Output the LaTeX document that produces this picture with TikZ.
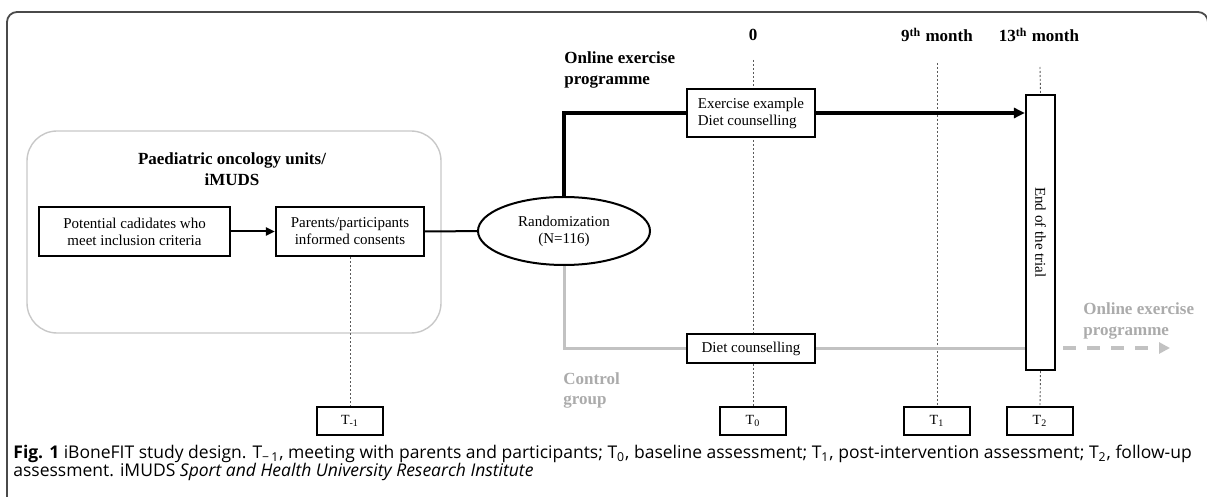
\documentclass[tikz,border=0pt]{standalone}
\usepackage{fontspec}
\setmainfont{Liberation Serif}
\newfontfamily\capfont{Open Sans}
\usetikzlibrary{arrows.meta,shapes.geometric}
\definecolor{framegray}{HTML}{4A4A4A}
\definecolor{panelgray}{HTML}{C8C8C8}
\definecolor{ctrlline}{HTML}{C2C2C2}
\definecolor{ctrltext}{HTML}{ABABAB}
\definecolor{guide}{HTML}{5A5A5A}
\tikzset{
  stagebox/.style={draw=black, fill=white, line width=1.1pt, rectangle, inner sep=0pt,
    font=\fontsize{7.5}{8.5}\selectfont, align=center},
  timebox/.style={draw=black, fill=white, line width=1.1pt, minimum width=33pt,
    minimum height=14pt, inner sep=0pt, font=\fontsize{7}{8}\selectfont},
  heading/.style={font=\fontsize{8.5}{10.5}\selectfont\bfseries, align=center, inner sep=0pt},
  guideline/.style={draw=guide, line width=0.45pt, dash pattern=on 1pt off 1pt},
  trunk/.style={draw=black, line width=1.6pt},
  ctrl/.style={draw=ctrlline, line width=1.5pt},
  captext/.style={anchor=base west, inner sep=0pt, font=\capfont\fontsize{8.75}{9}\selectfont},
}
\begin{document}
\begin{tikzpicture}[x=0.5pt, y=-0.5pt]
\useasboundingbox (0,0) rectangle (1207,497);

% outer frame
\draw[framegray, line width=0.9pt, rounded corners=5pt]
  (7,505) -- (7,12) -- (1208,12) -- (1208,505);

% recruitment panel
\draw[panelgray, line width=0.7pt, rounded corners=15pt] (27,131) rectangle (441,333);
\node[heading] (unit) at (232,169.5) {Paediatric oncology units/\\iMUDS};

% timeline labels
\node[heading] (m0)  at (753,35)  {0};
\node[heading] (m9)  at (937,35)  {9\textsuperscript{th} month};
\node[heading] (m13) at (1039,35) {13\textsuperscript{th} month};

% assessment boxes
\node[timebox] (tm1) at (350,421) {T\textsubscript{-1}};
\node[timebox] (t0)  at (753,421) {T\textsubscript{0}};
\node[timebox] (t1)  at (937,421) {T\textsubscript{1}};
\node[timebox] (t2)  at (1040,421) {T\textsubscript{2}};

% guide lines (drawn first so boxes cover them)
\coordinate (g0) at (753,60);
\coordinate (g9) at (937,63);
\coordinate (g13) at (1040,67);
\draw[guideline] (g0) -- (t0.north);
\draw[guideline] (g9) -- (t1.north);

% stage boxes
\node[stagebox, minimum width=95.5pt, minimum height=24.5pt] (cand) at (134.5,231.5)
  {Potential cadidates who\\meet inclusion criteria};
\node[stagebox, minimum width=74pt, minimum height=24.5pt] (consent) at (350,231.5)
  {Parents/participants\\informed consents};
\node[ellipse, draw=black, fill=white, line width=1pt, minimum width=86pt, minimum height=34pt,
  inner sep=0pt, align=center, font=\fontsize{7.5}{8.5}\selectfont] (rand) at (564,231)
  {Randomization\\(N=116)};
\node[stagebox, minimum width=64pt, minimum height=24pt, align=left] (exer) at (751,113)
  {Exercise example\\Diet counselling};
\node[stagebox, minimum width=64pt, minimum height=14.5pt] (diet) at (751,348.5)
  {Diet counselling};
\node[stagebox, rotate=-90, minimum width=137.5pt, minimum height=14.5pt] (endt) at (1040.5,232.5)
  {End of the trial};

\draw[guideline] (consent.south) -- (tm1.north);
\draw[guideline] (g13) -- (endt.west);
\draw[guideline] (endt.east) -- (t2.north);

% group labels
\node[heading, align=left, anchor=west] (onl) at (564,69.5) {Online exercise\\programme};
\node[heading, align=left, anchor=west, text=ctrltext, font=\fontsize{8.5}{10}\selectfont\bfseries]
  (ctl) at (563,390) {Control\\group};
\node[heading, align=left, anchor=west, text=ctrltext] (onl2) at (1083,320.5)
  {Online exercise\\programme};

% connectors
\draw[line width=1pt, -{Triangle[length=4.5pt,width=4pt]}] (cand) -- (consent);
\draw[line width=1pt] (consent) -- (rand);
\draw[trunk] (rand.north) |- (exer.west);
\draw[trunk, -{Triangle[length=5.5pt,width=5pt]}] (exer.east) -- (endt.south |- exer.east);
\draw[ctrl] (rand.south) |- (diet.west);
\draw[ctrl] (diet.east) -- (endt.south |- diet.east);
\coordinate (fs) at (1063,348);
\coordinate (fe) at (1170,348);
\draw[draw=ctrlline, line width=2pt, dash pattern=on 6.5pt off 5.5pt,
  -{Triangle[length=5.5pt,width=5.5pt, fill=ctrlline]}] (fs) -- (fe);

% caption
\node[captext] (cap1) at (13,459)
  {\textbf{Fig. 1} iBoneFIT study design. T\textsubscript{−\,1}, meeting with parents and participants; T\textsubscript{0}, baseline assessment; T\textsubscript{1}, post-intervention assessment; T\textsubscript{2}, follow-up};
\node[captext] (cap2) at (13,477)
  {assessment. iMUDS \textit{Sport and Health University Research Institute}};
\end{tikzpicture}
\end{document}
